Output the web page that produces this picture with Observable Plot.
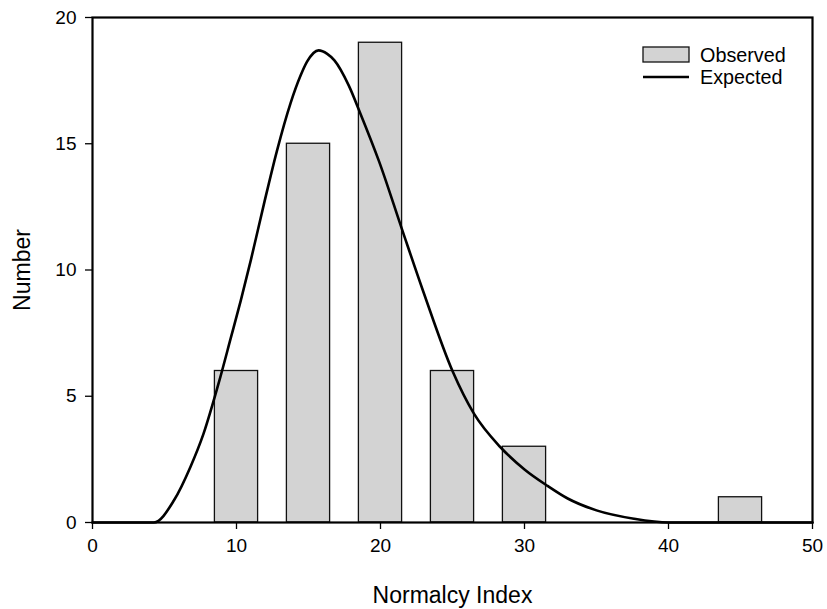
<!DOCTYPE html>
<html>
<head>
<meta charset="utf-8">
<script src="https://cdn.jsdelivr.net/npm/d3@7"></script>
<script src="https://cdn.jsdelivr.net/npm/@observablehq/plot@0.6"></script>
<style>
  html, body { margin: 0; padding: 0; background: #fff; }
  #chart { position: relative; width: 827px; height: 609px; }
  svg { font-family: "Liberation Sans", Arial, sans-serif; }
</style>
</head>
<body>
<div id="chart"></div>
<script>
// Observed histogram: bin centers and counts
const binCenters = [10, 15, 20, 25, 30, 45];
const observed = [6, 15, 19, 6, 3, 1];

// Expected curve
const expX = [0, 4.26, 5.65, 6.8, 7.7, 8.8, 9.6, 10.3, 11.0, 11.9, 12.8, 13.75, 14.45, 14.9, 15.7, 16.3, 16.8, 17.8, 18.6, 19.9, 21.5, 23, 25, 26.5, 28.3, 30, 31.6, 33, 35, 37.6, 40, 50];
const expY = [0, 0, 0.87, 2.2, 3.5, 5.6, 7.3, 8.8, 10.4, 12.6, 14.7, 16.6, 17.7, 18.25, 18.7, 18.56, 18.3, 17.3, 16.2, 14.3, 11.6, 9.1, 6.0, 4.3, 3.0, 2.1, 1.45, 0.95, 0.48, 0.15, 0, 0];

const xTicks = [0, 10, 20, 30, 40, 50];
const yTicks = [0, 5, 10, 15, 20];

const halfWidth = 1.5;
const bars = binCenters.map((c, i) => ({x1: c - halfWidth, x2: c + halfWidth, y: observed[i]}));
const curve = expX.map((x, i) => ({x, y: expY[i]}));

const plot = Plot.plot({
  width: 827,
  height: 609,
  marginLeft: 92,
  marginRight: 15,
  marginTop: 17,
  marginBottom: 87,
  style: {fontFamily: '"Liberation Sans", Arial, sans-serif', color: "#000", background: "#fff"},
  x: {domain: [0, 50]},
  y: {domain: [0, 20]},
  marks: [
    Plot.rectY(bars, {x1: "x1", x2: "x2", y: "y", fill: "#d3d3d3", stroke: "#111", strokeWidth: 1.3}),
    Plot.line(curve, {x: "x", y: "y", stroke: "#000", strokeWidth: 2.6, curve: "monotone-x"}),
    Plot.frame({stroke: "#000", strokeWidth: 2.2}),
    Plot.axisX({ticks: xTicks, tickSize: 7, tickPadding: 9, fontSize: 19, label: null, stroke: "#000", strokeWidth: 1.3}),
    Plot.axisY({ticks: yTicks, tickSize: 7, tickPadding: 9, fontSize: 19, label: null, stroke: "#000", strokeWidth: 1.3}),
    Plot.text(["Normalcy Index"], {frameAnchor: "bottom", dy: 73, fontSize: 23, lineAnchor: "middle", fill: "#000"}),
    Plot.text(["Number"], {frameAnchor: "left", dx: -70, rotate: -90, fontSize: 23, textAnchor: "middle", fill: "#000"})
  ]
});

document.getElementById("chart").appendChild(plot);

// Legend inside the plot, top right
const svg = d3.select(plot);
const lg = svg.append("g").attr("class", "legend").attr("text-anchor", "start");
lg.append("rect").attr("x", 643).attr("y", 47).attr("width", 46).attr("height", 15)
  .attr("fill", "#d3d3d3").attr("stroke", "#111").attr("stroke-width", 1.3);
lg.append("text").attr("x", 700).attr("y", 61.5).attr("font-size", 19.8).attr("fill", "#000").text("Observed");
lg.append("line").attr("x1", 643).attr("x2", 689).attr("y1", 77).attr("y2", 77)
  .attr("stroke", "#000").attr("stroke-width", 2.6);
lg.append("text").attr("x", 700).attr("y", 84).attr("font-size", 19.8).attr("fill", "#000").text("Expected");
</script>
</body>
</html>
